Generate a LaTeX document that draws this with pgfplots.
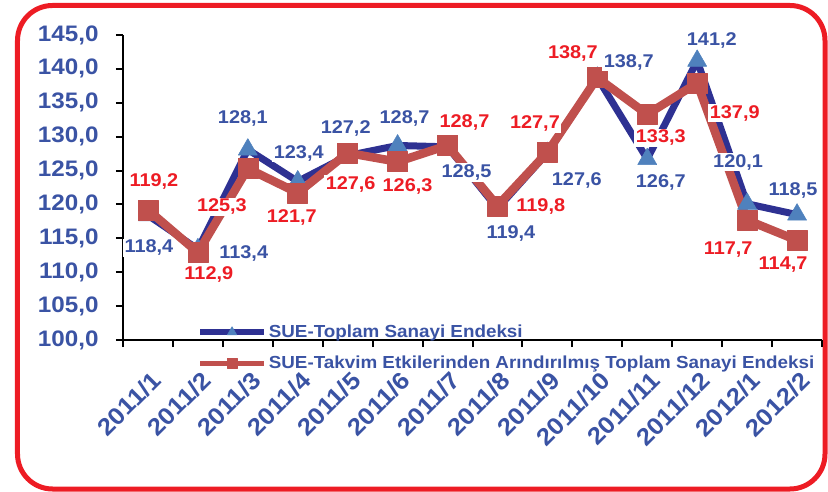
\documentclass[border=0pt]{standalone}
\usepackage{fontspec}
\setmainfont{Liberation Sans}[FakeStretch=1.08]
\usepackage{pgfplots}
\pgfplotsset{compat=1.18}
\definecolor{navy}{HTML}{2E3192}
\definecolor{triblue}{HTML}{4F81BD}
\definecolor{sred}{HTML}{C0504D}
\definecolor{lred}{HTML}{ED1C24}
\definecolor{lblue}{HTML}{3A53A4}
\definecolor{framered}{HTML}{ED1C24}
\begin{document}
\begin{tikzpicture}
\useasboundingbox (-123bp,-152bp) rectangle (705bp,340bp);
\draw[framered, line width=5bp, rounded corners=35bp] (-105.5bp,334.5bp) rectangle (702bp,-149bp);
\begin{axis}[
  at={(0,0)}, anchor=south west,
  scale only axis, width=699bp, height=305bp,
  clip=false,
  xmin=-0.5, xmax=13.5, ymin=100, ymax=145,
  axis x line*=bottom, axis y line*=left,
  axis line style={black, line width=2.2bp},
  xtick={-0.5,0.5,...,13.5},
  xticklabels={2011/1,2011/2,2011/3,2011/4,2011/5,2011/6,2011/7,2011/8,2011/9,2011/10,2011/11,2011/12,2012/1,2012/2,{}},
  ytick={100,105,...,145},
  tick style={black, line width=2bp},
  major tick length=7bp, tick align=outside,
  /pgf/number format/assume math mode=true,
  yticklabel={\pgfmathprintnumber[fixed,fixed zerofill,precision=1,use comma]{\tick}},
  yticklabel style={font=\fontsize{22.5}{24}\selectfont\bfseries, text=lblue, xshift=-14bp},
  xticklabel style={font=\fontsize{24}{26}\selectfont\bfseries, text=lblue, xshift=36bp, yshift=-27bp, rotate=45, anchor=east},
  legend style={draw=none, fill=none, at={(0.106,0.056)}, anchor=north west,
    font=\fontsize{17.5}{20}\selectfont\bfseries, text=lblue, row sep=13bp, inner sep=0pt},
  legend cell align=left,
  legend image code/.code={\draw[#1, line width=5.5bp, mark repeat=2, mark phase=2, every mark/.append style={scale=0.5}] plot coordinates {(0bp,0bp) (32bp,0bp) (64bp,0bp)};},
]
\addplot[navy, line width=7bp, line join=round, mark=triangle*, mark size=11bp,
  mark options={fill=triblue, draw=triblue, line width=0.5bp}]
  coordinates {(0,118.4) (1,113.4) (2,128.1) (3,123.4) (4,127.2) (5,128.7) (6,128.5)
  (7,119.4) (8,127.6) (9,138.7) (10,126.7) (11,141.2) (12,120.1) (13,118.5)};
\addlegendentry{SUE-Toplam Sanayi Endeksi}
\addplot[sred, line width=8.5bp, line join=round, mark=square*, mark size=10bp,
  mark options={fill=sred, draw=sred, line width=0.5bp}]
  coordinates {(0,119.2) (1,112.9) (2,125.3) (3,121.7) (4,127.6) (5,126.3) (6,128.7)
  (7,119.8) (8,127.7) (9,138.7) (10,133.3) (11,137.9) (12,117.7) (13,114.7)};
\addlegendentry{SUE-Takvim Etkilerinden Arındırılmış Toplam Sanayi Endeksi}
\addplot[forget plot, draw=none, mark=none, nodes near coords, point meta=explicit symbolic,
  visualization depends on={\thisrow{dx}\as\dx},
  visualization depends on={\thisrow{dy}\as\dy},
  every node near coord/.append style={anchor=center, xshift=\dx pt, yshift=\dy pt,
    fill=white, inner sep=1.5bp, text=lblue, font=\fontsize{18.5}{20}\selectfont\bfseries}]
  table[x=x, y=y, meta=lab] {
x y dx dy lab
0 118.4 1 -32.7 118,4
1 113.4 46 -4 113,4
2 128.1 -5 31.5 128,1
3 123.4 1 28.4 123,4
4 127.2 -2 27.6 127,2
5 128.7 7 27.5 128,7
6 128.5 19 -26 128,5
7 119.4 13.5 -25 119,4
8 127.6 29.5 -28 127,6
9 138.7 31.5 15.7 138,7
10 126.7 13.6 -24 126,7
11 141.2 14.7 20.7 141,2
12 120.1 -9 41.8 120,1
13 118.5 -4 24.6 118,5
};
\addplot[forget plot, draw=none, mark=none, nodes near coords, point meta=explicit symbolic,
  visualization depends on={\thisrow{dx}\as\dx},
  visualization depends on={\thisrow{dy}\as\dy},
  every node near coord/.append style={anchor=center, xshift=\dx pt, yshift=\dy pt,
    fill=white, inner sep=1.5bp, text=lred, font=\fontsize{18.5}{20}\selectfont\bfseries}]
  table[x=x, y=y, meta=lab] {
x y dx dy lab
0 119.2 6 28 119,2
1 112.9 11 -22.4 112,9
2 125.3 -26 -38.5 125,3
3 121.7 -6 -25 121,7
4 127.6 3 -32 127,6
5 126.3 10 -25 126,3
6 128.7 17 23.5 128,7
7 119.8 43.5 -1 119,8
8 127.7 -12.5 29 127,7
9 138.7 -24.5 24.7 138,7
10 133.3 13.6 -23.7 133,3
11 137.9 37.7 -30 137,9
12 117.7 -19 -30 117,7
13 114.7 -14 -24.6 114,7
};
\end{axis}
\end{tikzpicture}
\end{document}
